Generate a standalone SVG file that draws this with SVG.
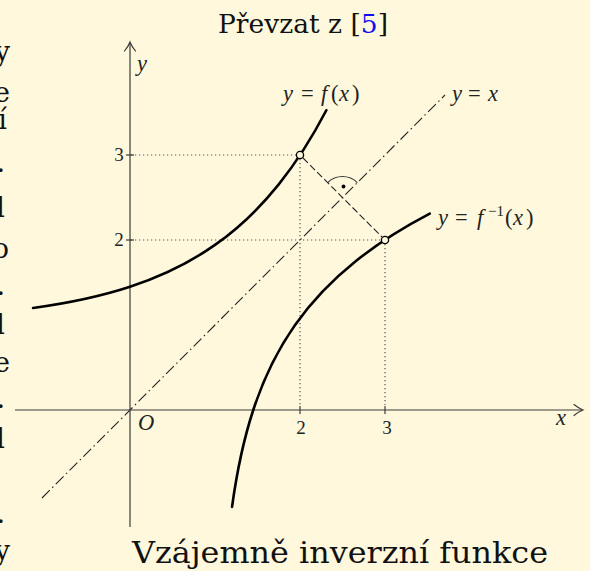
<svg xmlns="http://www.w3.org/2000/svg" width="590" height="571" viewBox="0 0 590 571">
<style>
.bg{fill:#fff8dc}
.axis{stroke:#3a3a3a;stroke-width:1.2;fill:none}
.arrow{stroke:#3a3a3a;stroke-width:1.2;fill:none;stroke-linecap:round}
.curve{stroke:#000;stroke-width:2.6;fill:none;stroke-linecap:round}
.dot{stroke:#555;stroke-width:1.2;fill:none;stroke-dasharray:1.2 2.8}
.diag{stroke:#222;stroke-width:1.1;fill:none;stroke-dasharray:11 3.5 1.5 3.5}
.perp{stroke:#222;stroke-width:1.1;fill:none;stroke-dasharray:7 3}
.pt{fill:#fff8dc;stroke:#000;stroke-width:1.3}
.math{font-family:"Liberation Serif","DejaVu Serif",serif;font-size:22.5px;fill:#222}
.it{font-style:italic}
.sup{font-size:15px}
.num{font-family:"Liberation Serif","DejaVu Serif",serif;font-size:19px;fill:#222}
.big{font-family:"DejaVu Serif","Liberation Serif",serif;fill:#111}
.edge{font-family:"DejaVu Serif","Liberation Serif",serif;font-size:27px;fill:#111;text-anchor:end}
</style>
<rect class="bg" x="0" y="0" width="590" height="571"/>

<g id="title">
<text class="big" x="218" y="33" font-size="26.5" textLength="170" lengthAdjust="spacingAndGlyphs">Převzat z [<tspan fill="#1010ee">5</tspan>]</text>
</g>

<g id="edge-text">
<text class="edge" x="10" y="61">y</text>
<text class="edge" x="10" y="102">e</text>
<text class="edge" x="7" y="129">í</text>
<text class="edge" x="5" y="172">.</text>
<text class="edge" x="5" y="217">l</text>
<text class="edge" x="9" y="258">o</text>
<text class="edge" x="5" y="295">.</text>
<text class="edge" x="5" y="334">l</text>
<text class="edge" x="10" y="372">e</text>
<text class="edge" x="5" y="408">.</text>
<text class="edge" x="5" y="448">l</text>
<text class="edge" x="5" y="523">.</text>
<text class="edge" x="10" y="560">y</text>
</g>

<g id="connectors">
<line class="dot" x1="131" y1="155" x2="296" y2="155"/>
<line class="dot" x1="300" y1="159" x2="300" y2="405"/>
<line class="dot" x1="131" y1="240" x2="381" y2="240"/>
<line class="dot" x1="385" y1="244" x2="385" y2="405"/>
<line class="diag" x1="42" y1="498" x2="445" y2="95"/>
<line class="perp" x1="303" y1="158" x2="382" y2="237"/>
<path class="axis" d="M327.65,182.65 A21,21 0 0 1 357.35,182.65"/>
<circle cx="343.5" cy="186.5" r="1.9" fill="#000"/>
</g>

<g id="axes">
<line class="axis" x1="15" y1="410" x2="582" y2="410"/>
<line class="axis" x1="130" y1="527" x2="130" y2="43"/>
<path class="arrow" d="M124.5,51 Q128.5,46 130,42 Q131.5,46 135.5,51"/>
<path class="arrow" d="M574,404.5 Q579,408.5 583,410 Q579,411.5 574,415.5"/>
<line class="axis" x1="126" y1="155" x2="134" y2="155"/>
<line class="axis" x1="126" y1="240" x2="134" y2="240"/>
<line class="axis" x1="300" y1="406" x2="300" y2="414"/>
<line class="axis" x1="385" y1="406" x2="385" y2="414"/>
<text class="math it" x="137" y="71">y</text>
<text class="math it" x="556" y="425">x</text>
<text class="math it" x="138" y="430">O</text>
<text class="num" x="301" y="434" text-anchor="middle">2</text>
<text class="num" x="387" y="434" text-anchor="middle">3</text>
<text class="num" x="119" y="161" text-anchor="middle">3</text>
<text class="num" x="119" y="246" text-anchor="middle">2</text>
</g>

<g id="f">
<path class="curve" d="M33.1,307.96 C65.4,303.53 97.7,297.34 130,286.75 C158.33,277.46 186.67,264.86 215,244.93 C236.25,229.98 257.5,210.89 278.75,184.37 C294.62,164.57 310.48,140.62 326.35,110.24"/>
<circle class="pt" cx="300" cy="155" r="3.6"/>
<text class="math" y="101"><tspan class="it" x="283">y</tspan><tspan x="301">=</tspan><tspan class="it" x="321">f</tspan><tspan x="331">(</tspan><tspan class="it" x="339">x</tspan><tspan x="352">)</tspan></text>
</g>

<g id="finv">
<path class="curve" d="M232.04,506.9 C236.47,474.6 242.66,442.3 253.25,410 C262.54,381.67 275.14,353.33 295.07,325 C310.02,303.75 329.11,282.5 355.63,261.25 C375.43,245.38 399.38,229.52 429.76,213.65"/>
<circle class="pt" cx="385" cy="240" r="3.6"/>
<text class="math" y="225"><tspan class="it" x="438">y</tspan><tspan x="455">=</tspan><tspan class="it" x="477">f</tspan><tspan class="sup" x="488" dy="-9">−1</tspan><tspan x="505" dy="9">(</tspan><tspan class="it" x="513">x</tspan><tspan x="526">)</tspan></text>
</g>

<g id="identity">
<text class="math" y="101"><tspan class="it" x="452">y</tspan><tspan x="468">=</tspan><tspan class="it" x="488">x</tspan></text>
</g>

<g id="caption">
<text class="big" x="132" y="563" font-size="30" textLength="416" lengthAdjust="spacingAndGlyphs">Vzájemně inverzní funkce</text>
</g>
</svg>
